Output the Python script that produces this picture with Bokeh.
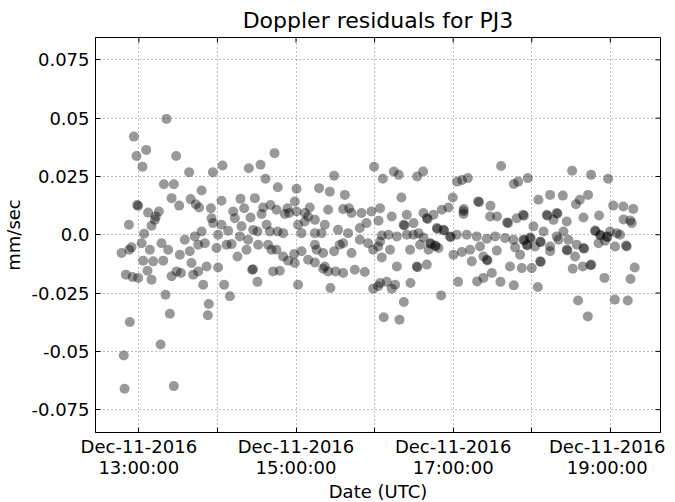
import math
import pandas as pd
from bokeh.plotting import figure
from bokeh.models import (Range1d, FixedTicker, DatetimeTickFormatter, CustomJSTickFormatter,
                          ColumnDataSource)
from bokeh.embed import file_html
from bokeh.resources import INLINE

# minutes after 2016-12-11 12:00 UTC
t_minutes = [
    81.1, 56.2, 65.6, 58.2, 88.5,
    62.8, 98.4, 116.5, 123.9, 144.0, 152.9, 156.7, 166.1, 180.4, 209.1, 197.6, 205.8, 217.3, 239.6, 246.3,
    79.1, 86.7, 107.9, 85.0, 99.5, 103.5, 106.0, 90.8, 58.7, 59.5, 115.0, 123.1, 137.6, 148.6, 179.1,
    67.1, 75.3, 73.0, 72.2, 52.4, 69.7, 64.0, 115.5, 116.7, 123.1, 133.3, 132.0, 140.4, 145.3, 138.4, 128.2, 120.5, 107.9, 102.7,
    154.9, 160.5, 165.1, 173.5, 174.7, 171.5, 180.4, 186.7, 190.5, 153.7, 157.5, 150.6, 147.3, 160.0, 170.2, 165.9, 181.6, 186.7,
    189.2, 194.4, 202.0, 204.5, 216.0, 220.5, 222.4, 230.0, 237.6, 228.7, 233.8, 212.1, 219.8, 184.2, 194.4, 199.5, 137.1, 143.4,
    46.8, 52.6, 54.4, 62.1, 68.4, 77.3, 82.4, 95.1, 91.3, 98.9, 110.4, 105.3, 119.3, 127.0, 130.8, 135.3, 142.2, 151.1, 158.7,
    161.3, 165.1, 170.2, 174.0, 178.6, 184.2, 179.1, 189.2, 194.4, 195.7, 200.7, 194.4, 202.0, 209.1, 213.4, 216.0, 222.4, 228.7,
    235.0, 238.9, 242.7,
    63.3, 70.9, 78.6, 66.6, 50.1, 55.2, 59.5, 69.7, 85.0, 88.8, 92.1, 100.2, 101.5, 105.3, 111.7, 120.5, 109.1, 125.1, 146.5,
    147.2, 150.6, 162.5, 167.6, 181.6, 200.7, 204.5, 216.0, 210.2, 224.9, 232.5, 206.3, 238.9, 242.7, 80.4, 129.5, 113.4,
    83.7, 53.1, 112.7, 76.6, 48.5, 49.1, 86.7, 247.0,
    262.3, 259.0, 290.8, 253.1, 255.7, 244.2, 249.3, 267.4, 303.8, 318.3, 336.1, 346.3,
    364.6, 395.4, 402.8, 423.4, 433.3, 415.5, 435.4, 438.6, 391.3, 404.8, 405.5, 399.0,
    163.6,
    336.6, 277.0, 272.5, 254.7, 258.5, 303.0, 306.8, 311.2, 346.3, 349.6, 357.0, 260.5, 299.7, 308.1, 319.0, 319.8, 328.5,
    333.5, 341.2, 341.9, 353.4, 354.0,
    390.8, 405.3, 418.3, 244.2, 253.1, 243.0, 264.6, 262.1, 262.8, 269.7, 277.3, 279.9, 280.5, 285.0, 291.3, 296.4, 307.9,
    307.9, 328.2, 348.6, 365.1, 374.0, 383.7, 393.8, 396.7, 403.0, 371.5, 372.0, 379.1, 379.6, 376.6, 386.7, 399.5, 411.4,
    422.2, 429.9, 437.5, 430.1, 436.4, 435.2,
    361.3, 369.0, 384.2, 379.1, 408.3, 408.8, 412.2, 412.6, 417.3, 417.8, 419.8, 424.9, 427.4, 416.0, 411.0, 423.6, 432.0, 432.5,
    245.5, 250.6, 257.0, 264.6, 269.7, 273.5, 277.3, 287.5, 288.0, 292.6, 293.1, 297.6, 298.1, 302.8, 310.4, 318.0, 325.7,
    332.0, 339.6, 346.0, 353.7, 354.2, 358.7, 359.2, 366.4, 366.9, 356.2, 356.7, 362.5, 374.0, 380.4, 388.0, 394.4, 399.5,
    400.0, 386.7, 387.2, 374.0,
    244.2, 251.8, 245.5, 267.1, 274.7, 282.4, 282.9, 286.2, 286.7, 288.8, 281.2, 300.2, 306.6, 312.9, 314.2, 323.1, 325.7,
    326.2, 320.5, 333.3, 347.3, 351.1, 366.4, 366.9, 393.1,
    257.0, 272.2, 272.7, 279.9, 343.4, 352.4, 360.0, 323.1, 329.5,
]

# Doppler residuals, mm/sec
resid = [
    0.0497, 0.0421, 0.0364, 0.0338, 0.0338,
    0.0292, 0.0268, 0.0268, 0.0297, 0.0285, 0.0300, 0.0240, 0.0204, 0.0197, 0.0253, 0.0200, 0.0185, 0.0171, 0.0292, 0.0240,
    0.0217, 0.0217, 0.0190, 0.0157, 0.0153, 0.0131, 0.0117, 0.0125, 0.0128, 0.0124, 0.0114, 0.0146, 0.0154, 0.0157, 0.0143,
    0.0095, 0.0100, 0.0078, 0.0064, 0.0043, 0.0039, 0.0004, 0.0071, 0.0050, 0.0043, 0.0071, 0.0100, 0.0114, 0.0074, 0.0036, 0.0017, 0.0, 0.0014, -0.0007,
    0.0117, 0.0128, 0.0107, 0.0114, 0.0093, 0.0089, 0.0100, 0.0093, 0.0117, 0.0089, 0.0043, 0.0014, 0.0021, 0.0014, 0.0007, 0.0014, 0.0043, 0.0057,
    0.0078, 0.0064, 0.0043, 0.0107, 0.0110, 0.0114, 0.0093, 0.0093, 0.0100, 0.0029, 0.0050, 0.0021, 0.0007, 0.0007, 0.0007, 0.0007, -0.0007, -0.0021,
    -0.0078, -0.0064, -0.0054, -0.0036, -0.0064, -0.0036, -0.0064, -0.0021, -0.0086, -0.0071, -0.0036, -0.0043, -0.0057, -0.0043, -0.0040, -0.0093, -0.0064, -0.0043, -0.0043,
    -0.0064, -0.0064, -0.0093, -0.0111, -0.0083, -0.0071, -0.0121, -0.0107, -0.0043, -0.0064, -0.0078, -0.0119, -0.0136, -0.0071, -0.0043, -0.0036, -0.0078, -0.0021,
    -0.0036, -0.0064, -0.0050,
    -0.0111, -0.0114, -0.0111, -0.0154, -0.0171, -0.0181, -0.0185, -0.0193, -0.0178, -0.0157, -0.0164, -0.0121, -0.0171, -0.0157, -0.0136, -0.0140, -0.0214, -0.0214, -0.0150,
    -0.0148, -0.0202, -0.0157, -0.0154, -0.0214, -0.0146, -0.0157, -0.0164, -0.0157, -0.0150, -0.0160, -0.0228, -0.0231, -0.0221, -0.0257, -0.0264, -0.0297,
    -0.0339, -0.0374, -0.0345, -0.0471, -0.0518, -0.0660, -0.0649, -0.0354,
    -0.0288, -0.0364, -0.0260, -0.0231, -0.0214, -0.0207, -0.0202, -0.0207, -0.0202, -0.0200, -0.0202, -0.0217,
    -0.0224, -0.0282, -0.0350, -0.0278, -0.0282, -0.0185, -0.0190, -0.0140, -0.0146, -0.0131, -0.0128, -0.0136,
    0.0350,
    0.0295, 0.0271, 0.0250, 0.0271, 0.0257, 0.0228, 0.0235, 0.0243, 0.0218, 0.0228, 0.0243, 0.0160, 0.0160, 0.0110, 0.0143, 0.0140, 0.0124,
    0.0078, 0.0053, 0.0050, 0.0086, 0.0082,
    0.0275, 0.0257, 0.0240, 0.0114, 0.0078, 0.0060, 0.0086, 0.0043, 0.0040, 0.0050, 0.0093, 0.0071, 0.0068, 0.0086, 0.0107, 0.0117, 0.0101,
    0.0089, 0.0078, 0.0071, 0.0150, 0.0171, 0.0168, 0.0131, 0.0150, 0.0171, 0.0086, 0.0082, 0.0093, 0.0090, 0.0064, 0.0057, 0.0074, 0.0083,
    0.0125, 0.0121, 0.0111, 0.0066, 0.0050, 0.0061,
    0.0036, 0.0014, 0.0014, -0.0007, 0.0018, 0.0015, 0.0, -0.0003, -0.0007, -0.0010, 0.0014, 0.0007, 0.0, -0.0026, -0.0036, -0.0050, -0.0046, -0.0050,
    -0.0003, 0.0, -0.0007, 0.0, 0.0, 0.0007, -0.0012, 0.0029, 0.0025, 0.0021, 0.0018, -0.0007, -0.0010, 0.0, 0.0, -0.0007, -0.0017,
    -0.0007, -0.0014, -0.0021, -0.0021, -0.0024, -0.0012, -0.0015, -0.0029, -0.0032, -0.0043, -0.0046, -0.0050, -0.0050, -0.0021, -0.0021, -0.0043, -0.0057,
    -0.0060, -0.0064, -0.0067, -0.0071,
    -0.0029, -0.0064, -0.0097, -0.0064, -0.0043, -0.0036, -0.0039, -0.0046, -0.0049, -0.0057, -0.0064, -0.0086, -0.0074, -0.0064, -0.0114, -0.0093, -0.0107,
    -0.0110, -0.0050, -0.0068, -0.0054, -0.0086, -0.0114, -0.0117, -0.0093,
    -0.0136, -0.0136, -0.0139, -0.0128, -0.0136, -0.0143, -0.0143, -0.0185, -0.0164,
]

y_ticks = [-0.075, -0.05, -0.025, 0.0, 0.025, 0.05, 0.075]
x_label_hours = [13, 15, 17, 19]
x_minor_hours = [14, 16, 18]

base = pd.Timestamp("2016-12-11 12:00:00")
day = pd.Timestamp("2016-12-11")
times = [base + pd.Timedelta(minutes=m) for m in t_minutes]
src = ColumnDataSource(dict(t=times, r=resid))


def ms(ts):
    return ts.value / 1e6


x_start = base + pd.Timedelta(minutes=26.9)
x_end = base + pd.Timedelta(minutes=458.3)
y_lo, y_hi = -0.0848, 0.0846
major_ms = [ms(day + pd.Timedelta(hours=h)) for h in x_label_hours]
minor_ms = [ms(day + pd.Timedelta(hours=h)) for h in x_minor_hours]

FONT = "DejaVu Sans"

p = figure(frame_width=565, frame_height=395, x_axis_type="datetime",
           x_range=Range1d(x_start, x_end), y_range=Range1d(y_lo, y_hi),
           output_backend="svg", toolbar_location=None,
           min_border_left=89, min_border_top=29, min_border_right=5, min_border_bottom=60,
           title="Doppler residuals for PJ3")
p.title.text_font = FONT
p.title.text_font_size = "22px"
p.title.text_font_style = "normal"
p.title.align = "center"
p.title.text_color = "black"

p.scatter("t", "r", source=src, size=10, fill_color="black", fill_alpha=0.4, line_color=None)

xticker = FixedTicker(ticks=major_ms, minor_ticks=minor_ms)
yticker = FixedTicker(ticks=y_ticks, minor_ticks=[])
fmt_str = "%b-%d-%Y\n%H:%M:%S"
xfmt = DatetimeTickFormatter(milliseconds=fmt_str, seconds=fmt_str, minsec=fmt_str, minutes=fmt_str,
                             hourmin=fmt_str, hours=fmt_str, days=fmt_str, months=fmt_str, years=fmt_str)
yfmt = CustomJSTickFormatter(code="""
    var s = tick.toFixed(3);
    s = s.replace(/0+$/, '');
    if (s.endsWith('.')) s += '0';
    if (s == '-0.0') s = '0.0';
    return s;
""")

xa = p.xaxis[0]
xa.ticker = xticker
xa.formatter = xfmt
xa.axis_label = "Date (UTC)"
ya = p.yaxis[0]
ya.ticker = yticker
ya.formatter = yfmt
ya.axis_label = "mm/sec"

for ax in (xa, ya):
    ax.major_label_text_font = FONT
    ax.major_label_text_font_size = "18px"
    ax.major_label_text_color = "black"
    ax.axis_label_text_font = FONT
    ax.axis_label_text_font_size = "18px"
    ax.axis_label_text_font_style = "normal"
    ax.axis_label_text_color = "black"
    ax.major_tick_in = 5
    ax.major_tick_out = 0
    ax.minor_tick_in = 5
    ax.minor_tick_out = 0
    ax.major_tick_line_color = "black"
    ax.minor_tick_line_color = "black"
    ax.axis_line_color = "black"
xa.major_label_text_line_height = 1.0
xa.major_label_standoff = 3
xa.axis_label_standoff = 0
xa.axis_label_text_line_height = 1.0
ya.major_label_standoff = 6
ya.axis_label_standoff = 4

# inward tick marks on the top and right edges of the frame
top_ticks_t = major_ms + minor_ms
p.ray(x=top_ticks_t, y=[y_hi] * len(top_ticks_t), length=5, length_units="screen",
      angle=-math.pi / 2, line_color="black", line_width=1)
p.ray(x=[ms(x_end)] * len(y_ticks), y=y_ticks, length=5, length_units="screen",
      angle=math.pi, line_color="black", line_width=1)

p.xgrid.ticker = xticker
p.ygrid.ticker = yticker
for g in (p.xgrid, p.ygrid):
    g.grid_line_color = "black"
    g.grid_line_alpha = 0.5
    g.grid_line_dash = "1 3"
    g.grid_line_width = 1
p.xgrid.minor_grid_line_color = "black"
p.xgrid.minor_grid_line_alpha = 0.5
p.xgrid.minor_grid_line_dash = "1 3"

p.outline_line_color = "black"
p.outline_line_width = 1
p.background_fill_color = "white"
p.border_fill_color = "white"

open("out.html", "w").write(file_html(p, INLINE))
